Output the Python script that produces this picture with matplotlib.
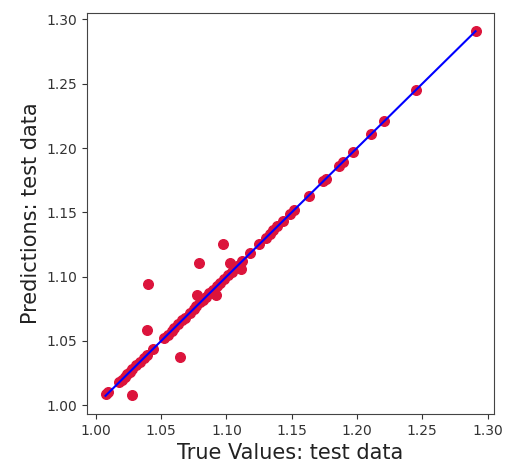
from matplotlib import pyplot as plt

# points lying on the diagonal (true value, prediction)
true_line = [1.0074, 1.009, 1.018, 1.020, 1.022, 1.024, 1.026, 1.028, 1.031, 1.034,
             1.037, 1.039, 1.044, 1.052, 1.055, 1.058, 1.060, 1.063, 1.066, 1.068,
             1.072, 1.075, 1.077, 1.080, 1.082, 1.084, 1.087, 1.090, 1.093, 1.095,
             1.098, 1.101, 1.104, 1.108, 1.112, 1.118, 1.125, 1.130, 1.133, 1.136,
             1.139, 1.143, 1.149, 1.152, 1.163, 1.174, 1.176, 1.186, 1.189, 1.197,
             1.211, 1.221, 1.245, 1.2908]
pred_line = [1.0087, 1.010, 1.018, 1.020, 1.022, 1.024, 1.026, 1.028, 1.031, 1.034,
             1.037, 1.039, 1.0436, 1.052, 1.055, 1.058, 1.060, 1.063, 1.066, 1.068,
             1.072, 1.075, 1.077, 1.080, 1.082, 1.084, 1.087, 1.090, 1.093, 1.095,
             1.098, 1.101, 1.104, 1.108, 1.112, 1.118, 1.125, 1.130, 1.133, 1.136,
             1.139, 1.143, 1.149, 1.152, 1.163, 1.174, 1.176, 1.186, 1.189, 1.197,
             1.211, 1.221, 1.245, 1.2906]

# points away from the diagonal
true_off = [1.0279, 1.0394, 1.0399, 1.0642, 1.0777, 1.0918, 1.079, 1.0977, 1.1030, 1.1108]
pred_off = [1.008, 1.0584, 1.0946, 1.0378, 1.0860, 1.0860, 1.1106, 1.1251, 1.1106, 1.1062]

y_test = true_line + true_off
y_pred = pred_line + pred_off

fig = plt.figure(figsize=(5.05, 4.67), dpi=100)
ax = fig.add_axes([0.1723, 0.1135, 0.806, 0.8587])
ax.scatter(y_test, y_pred, c='crimson', s=48)

p1 = max(max(y_pred), max(y_test))
p2 = min(min(y_pred), min(y_test))
ax.plot([p1, p2], [p1, p2], 'b-', lw=1.5)

ax.set_xticks([1.00, 1.05, 1.10, 1.15, 1.20, 1.25, 1.30])
ax.set_yticks([1.00, 1.05, 1.10, 1.15, 1.20, 1.25, 1.30])
ax.tick_params(labelsize=10, colors='#333333')
ax.set_xlabel('True Values: test data', fontsize=15, color='#222222')
ax.set_ylabel('Predictions: test data', fontsize=15, color='#222222')
for s in ax.spines.values():
    s.set_color('#444444')

fig.savefig('out.png', dpi=100)
